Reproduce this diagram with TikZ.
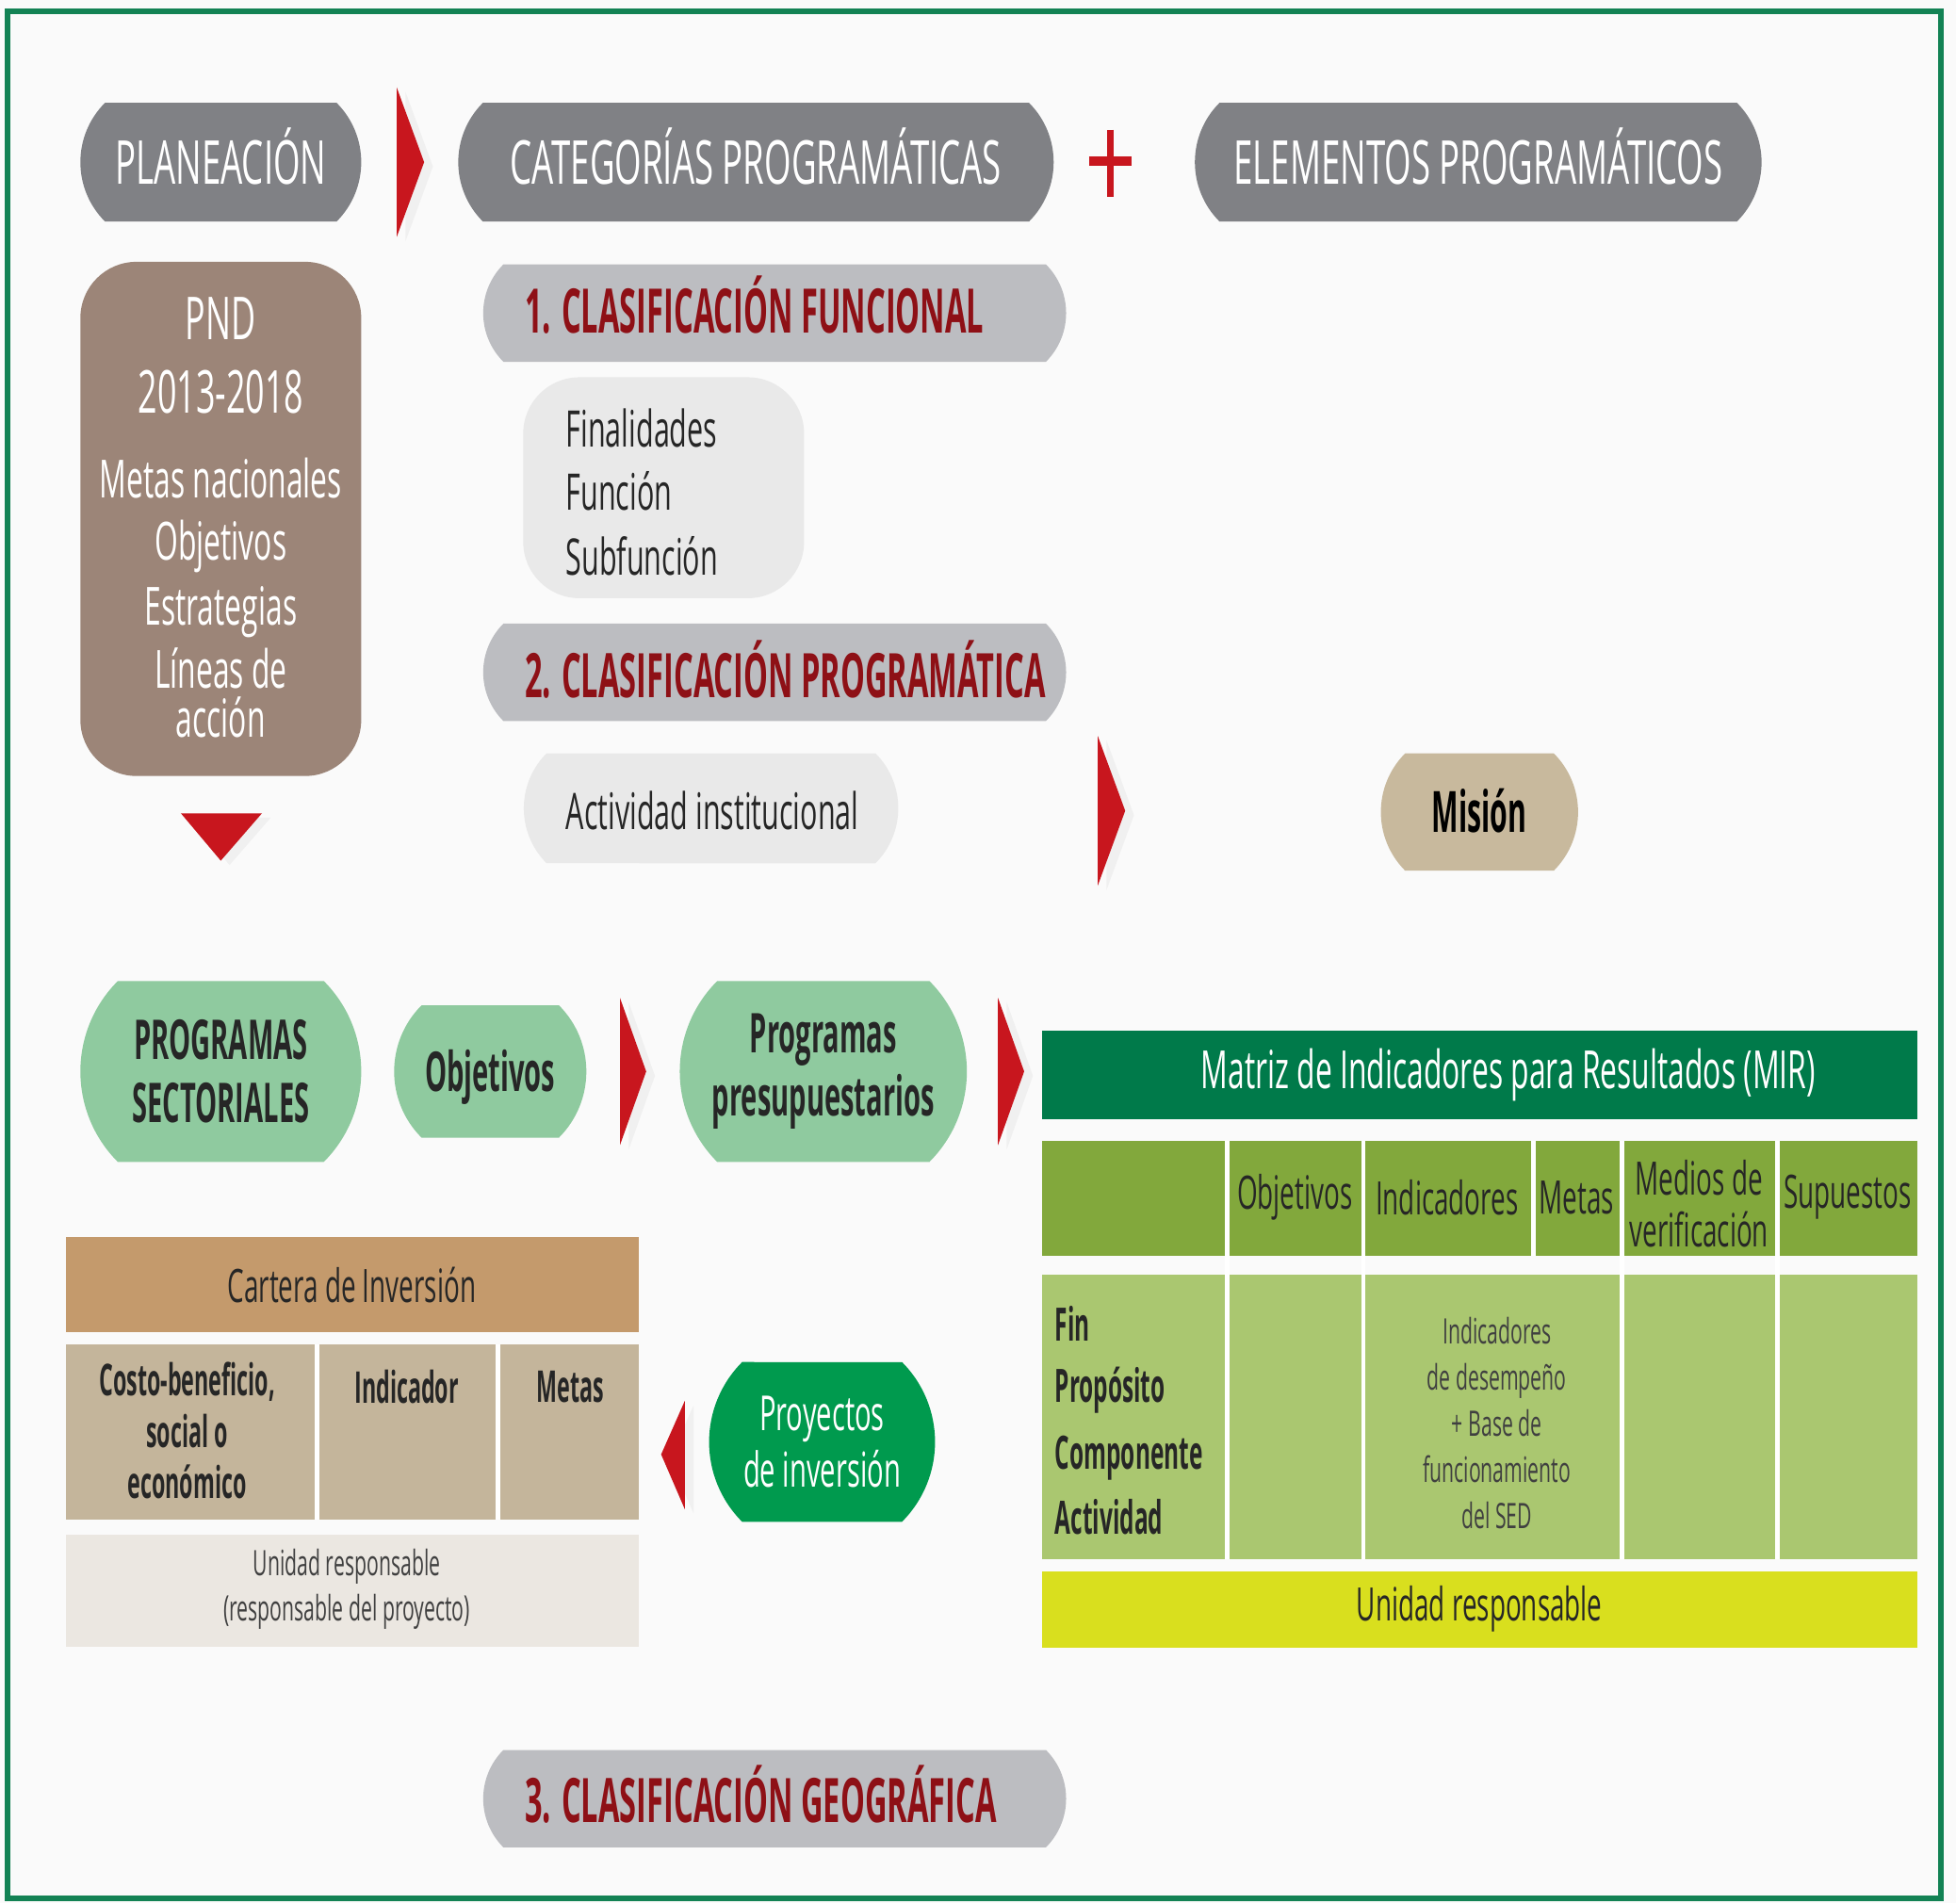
\documentclass[tikz,border=0pt]{standalone}
\usepackage{fontspec}
\setmainfont{Open Sans}[FakeStretch=0.57, BoldFeatures={FakeStretch=0.5}]
\usetikzlibrary{shapes.misc,shadows}

\begin{document}
\begin{tikzpicture}[x=0.01cm, y=-0.01cm]
  \definecolor{framegreen}{HTML}{138254}
  \definecolor{pillgray}{HTML}{808185}
  \definecolor{clsgray}{HTML}{BCBDC1}
  \definecolor{softgray}{HTML}{E9E9E9}
  \definecolor{pndbrown}{HTML}{9C8578}
  \definecolor{mistan}{HTML}{C8B99D}
  \definecolor{mint}{HTML}{8FCA9F}
  \definecolor{arrowred}{HTML}{C8161E}
  \definecolor{darkred}{HTML}{8E1016}
  \definecolor{mirgreen}{HTML}{007A4A}
  \definecolor{olive}{HTML}{82A83C}
  \definecolor{mirbody}{HTML}{AAC770}
  \definecolor{lime}{HTML}{D9DF1E}
  \definecolor{cartera}{HTML}{C49A6C}
  \definecolor{tanrow}{HTML}{C4B59B}
  \definecolor{palerow}{HTML}{EBE7E1}
  \definecolor{proygreen}{HTML}{009A4E}
  \definecolor{bg}{HTML}{FAFAFA}
  \tikzstyle{pill}=[rounded rectangle, rounded rectangle arc length=90, inner sep=0pt]
  \tikzstyle{toppill}=[pill, fill=pillgray, text=white, minimum height=0.95cm, font=\fontsize{13.8}{15}\selectfont, text height=9.85pt, text depth=0pt]
  \tikzstyle{clspill}=[pill, fill=clsgray, minimum width=4.67cm, minimum height=0.78cm]
  \tikzstyle{clstext}=[anchor=base west, inner sep=0pt, text=darkred, font=\bfseries\fontsize{14}{16}\selectfont]
  \tikzstyle{itemtext}=[anchor=base west, inner sep=0pt, text=black!85, font=\fontsize{11.5}{13}\selectfont]
  \tikzstyle{pndtext}=[anchor=base, inner sep=0pt, text=white, font=\fontsize{12}{14}\selectfont]
  \tikzstyle{mintpill}=[pill, fill=mint, text=black!85, font=\bfseries\fontsize{12.5}{14.5}\selectfont]
  \tikzstyle{chevron}=[fill=arrowred, drop shadow={opacity=0.08, shadow xshift=2pt, shadow yshift=-1pt}]
  \tikzstyle{celltext}=[inner sep=0pt, text=black!85, font=\fontsize{10.5}{12}\selectfont]
  \tikzstyle{rowtext}=[anchor=base west, inner sep=0pt, text=black!85, font=\bfseries\fontsize{10.5}{12}\selectfont]
  \tikzstyle{smalltext}=[inner sep=0pt, text=black!75, font=\fontsize{8}{10.5}\selectfont, align=center]

  \useasboundingbox (0,0) rectangle (1568,1526);
  \fill[bg] (0,0) rectangle (1568,1526);
  \draw[framegreen, line width=1.2pt] (6,9) rectangle (1556,1522);

  % cabecera
  \node[toppill, minimum width=2.25cm] (plan) at (177,130) {PLANEACIÓN};
  \node[toppill, minimum width=4.77cm] (cat) at (606,130) {CATEGORÍAS PROGRAMÁTICAS};
  \node[toppill, minimum width=4.54cm] (elem) at (1185,130) {ELEMENTOS PROGRAMÁTICOS};
  \fill[chevron] (318,70) -- (340,130) -- (318,190) -- cycle;
  \draw[arrowred, line width=1.5pt] (890,104) -- (890,158);
  \draw[arrowred, line width=2.2pt] (873,129) -- (907,129);

  % PND
  \node[fill=pndbrown, rounded corners=0.45cm, minimum width=2.25cm, minimum height=4.12cm] (pnd) at (177,416) {};
  \node[pndtext, font=\fontsize{13.5}{16}\selectfont] (pnd1) at (177,272) {PND};
  \node[pndtext, font=\fontsize{13.5}{16}\selectfont] (pnd2) at (177,331) {2013-2018};
  \node[pndtext] (pnd3) at (177,399) {Metas nacionales};
  \node[pndtext] (pnd4) at (177,449) {Objetivos};
  \node[pndtext] (pnd5) at (177,501) {Estrategias};
  \node[pndtext] (pnd6) at (177,552) {Líneas de};
  \node[pndtext] (pnd7) at (177,591) {acción};
  \fill[chevron] (145,652) -- (210,652) -- (177,690) -- cycle;

  % clasificaciones
  \node[clspill] (clf) at (621,251) {};
  \node[clstext] (clft) at (420,267) {1. CLASIFICACIÓN FUNCIONAL};
  \node[fill=softgray, rounded corners=0.45cm, minimum width=2.25cm, minimum height=1.77cm] (fin) at (532,391) {};
  \node[itemtext] (fin1) at (453,358) {Finalidades};
  \node[itemtext] (fin2) at (453,409) {Función};
  \node[itemtext] (fin3) at (453,461) {Subfunción};
  \node[clspill] (clp) at (621,539) {};
  \node[clstext] (clpt) at (420,559) {2. CLASIFICACIÓN PROGRAMÁTICA};
  \node[pill, fill=softgray, minimum width=3cm, minimum height=0.88cm] (act) at (570,648) {};
  \node[itemtext] (actt) at (453,665) {Actividad institucional};
  \fill[chevron] (880,590) -- (902,650) -- (880,710) -- cycle;
  \node[pill, fill=mistan, minimum width=1.58cm, minimum height=0.94cm, font=\bfseries\fontsize{13}{14}\selectfont, text height=9.3pt, text depth=0pt] (mis) at (1186,651) {Misión};

  % programas
  \node[mintpill, minimum width=2.25cm, minimum height=1.45cm, align=center] (sect) at (177,859) {PROGRAMAS\\SECTORIALES};
  \node[mintpill, minimum width=1.54cm, minimum height=1.06cm, text height=8.9pt, text depth=0pt] (obj) at (393,859) {Objetivos};
  \fill[chevron] (497,800) -- (518,859) -- (497,918) -- cycle;
  \node[mintpill, minimum width=2.3cm, minimum height=1.45cm, align=center] (pp) at (660,859) {Programas\\presupuestarios};
  \fill[chevron] (800,800) -- (821,859) -- (800,918) -- cycle;

  % MIR
  \fill[mirgreen] (835,826) rectangle (1537,897);
  \node[inner sep=0pt, text=white, font=\fontsize{12}{14}\selectfont] (mir) at (1209,862) {Matriz de Indicadores para Resultados (MIR)};
  \fill[olive] (835,915) rectangle (1537,1007);
  \fill[mirbody] (835,1022) rectangle (1537,1250);
  \draw[white, line width=1pt] (984,915) -- (984,1250) (1093,915) -- (1093,1250) (1300,915) -- (1300,1250) (1425,915) -- (1425,1250) (1229,915) -- (1229,1007);
  \node[celltext] (hobj) at (1038,960) {Objetivos};
  \node[celltext] (hind) at (1160,960) {Indicadores};
  \node[celltext] (hmet) at (1264,960) {Metas};
  \node[celltext, align=center] (hmed) at (1362,965) {Medios de\\verificación};
  \node[celltext] (hsup) at (1481,960) {Supuestos};
  \node[rowtext] (rfin) at (845,1075) {Fin};
  \node[rowtext] (rpro) at (845,1124) {Propósito};
  \node[rowtext] (rcom) at (845,1178) {Componente};
  \node[rowtext] (ract) at (845,1230) {Actividad};
  \node[smalltext] (sed) at (1200,1141) {Indicadores\\de desempeño\\+ Base de\\funcionamiento\\del SED};
  \fill[lime] (835,1260) rectangle (1537,1321);
  \node[celltext, font=\fontsize{10.5}{13}\selectfont] (ur) at (1186,1290) {Unidad responsable};

  % cartera
  \fill[cartera] (53,992) rectangle (512,1068);
  \node[celltext] (cart) at (282,1030) {Cartera de Inversión};
  \fill[tanrow] (53,1078) rectangle (512,1218);
  \draw[white, line width=1pt] (254,1078) -- (254,1218) (399,1078) -- (399,1218);
  \node[celltext, align=center, font=\bfseries\fontsize{10}{11.7}\selectfont] (costo) at (150,1147) {Costo-beneficio,\\social o\\económico};
  \node[celltext, font=\bfseries\fontsize{10}{11.7}\selectfont] (cind) at (326,1112) {Indicador};
  \node[celltext, font=\bfseries\fontsize{10}{11.7}\selectfont] (cmet) at (457,1112) {Metas};
  \fill[palerow] (53,1230) rectangle (512,1320);
  \node[smalltext] (urp) at (278,1274) {Unidad responsable\\(responsable del proyecto)};
  \fill[chevron] (549,1123) -- (530,1166) -- (549,1210) -- cycle;
  \node[pill, fill=proygreen, text=white, minimum width=1.78cm, minimum height=1.28cm, align=center, font=\fontsize{11}{13}\selectfont] (proy) at (659,1156) {Proyectos\\de inversión};

  % geografica
  \node[clspill] (clg) at (621,1442) {};
  \node[clstext] (clgt) at (420,1461) {3. CLASIFICACIÓN GEOGRÁFICA};
\end{tikzpicture}
\end{document}
